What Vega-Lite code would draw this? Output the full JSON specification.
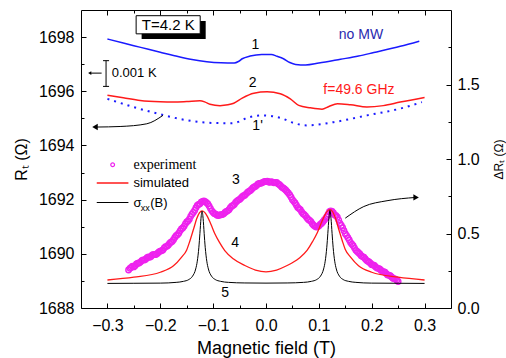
{
  "$schema": "https://vega.github.io/schema/vega-lite/v6.json",
  "width": 370,
  "height": 298,
  "autosize": "none",
  "padding": {"left": 81, "top": 10, "right": 55, "bottom": 50},
  "background": "white",
  "config": {
    "view": {"stroke": "black", "strokeWidth": 1},
    "axis": {"grid": false, "domain": false, "tickColor": "black", "tickWidth": 1, "labelColor": "black", "labelFont": "Liberation Sans", "labelFontSize": 16, "titleFont": "Liberation Sans", "titleFontWeight": "normal", "titleColor": "black"},
    "text": {"font": "Liberation Sans"}
  },
  "datasets": {
    "c1": [{"B":-0.3,"v":1697.93},{"B":-0.27,"v":1697.78},{"B":-0.237,"v":1697.62},{"B":-0.2,"v":1697.44},{"B":-0.175,"v":1697.32},{"B":-0.14,"v":1697.17},{"B":-0.112,"v":1697.09},{"B":-0.085,"v":1697.05},{"B":-0.06,"v":1697.04},{"B":-0.052,"v":1697.1},{"B":-0.045,"v":1697.2},{"B":-0.03,"v":1697.3},{"B":-0.008,"v":1697.36},{"B":0.01,"v":1697.36},{"B":0.021,"v":1697.29},{"B":0.033,"v":1697.2},{"B":0.045,"v":1697.06},{"B":0.056,"v":1696.99},{"B":0.075,"v":1696.97},{"B":0.1,"v":1697.04},{"B":0.141,"v":1697.18},{"B":0.175,"v":1697.3},{"B":0.204,"v":1697.43},{"B":0.254,"v":1697.66},{"B":0.29,"v":1697.85}],
    "c2": [{"B":-0.3,"v":1695.85},{"B":-0.27,"v":1695.76},{"B":-0.238,"v":1695.66},{"B":-0.2,"v":1695.61},{"B":-0.175,"v":1695.6},{"B":-0.15,"v":1695.62},{"B":-0.125,"v":1695.65},{"B":-0.115,"v":1695.6},{"B":-0.106,"v":1695.52},{"B":-0.087,"v":1695.47},{"B":-0.072,"v":1695.5},{"B":-0.061,"v":1695.56},{"B":-0.045,"v":1695.75},{"B":-0.023,"v":1695.93},{"B":0.002,"v":1695.98},{"B":0.027,"v":1695.91},{"B":0.046,"v":1695.72},{"B":0.062,"v":1695.48},{"B":0.084,"v":1695.39},{"B":0.106,"v":1695.34},{"B":0.119,"v":1695.44},{"B":0.135,"v":1695.54},{"B":0.16,"v":1695.5},{"B":0.191,"v":1695.42},{"B":0.222,"v":1695.47},{"B":0.254,"v":1695.6},{"B":0.3,"v":1695.77}],
    "c1p": [{"B":-0.3,"v":1695.72},{"B":-0.251,"v":1695.42},{"B":-0.2,"v":1695.15},{"B":-0.15,"v":1694.93},{"B":-0.1,"v":1694.83},{"B":-0.065,"v":1694.82},{"B":-0.048,"v":1694.9},{"B":-0.036,"v":1695.02},{"B":-0.005,"v":1695.11},{"B":0.027,"v":1695.02},{"B":0.052,"v":1694.83},{"B":0.078,"v":1694.74},{"B":0.128,"v":1694.86},{"B":0.191,"v":1695.11},{"B":0.254,"v":1695.36},{"B":0.295,"v":1695.6}],
    "exp": [{"B":-0.26,"v":0.255},{"B":-0.255,"v":0.272},{"B":-0.25,"v":0.276},{"B":-0.245,"v":0.295},{"B":-0.24,"v":0.302},{"B":-0.235,"v":0.318},{"B":-0.23,"v":0.322},{"B":-0.225,"v":0.338},{"B":-0.22,"v":0.341},{"B":-0.215,"v":0.356},{"B":-0.21,"v":0.358},{"B":-0.205,"v":0.368},{"B":-0.2,"v":0.382},{"B":-0.195,"v":0.39},{"B":-0.19,"v":0.412},{"B":-0.185,"v":0.421},{"B":-0.18,"v":0.441},{"B":-0.175,"v":0.458},{"B":-0.17,"v":0.485},{"B":-0.165,"v":0.502},{"B":-0.16,"v":0.53},{"B":-0.155,"v":0.548},{"B":-0.15,"v":0.577},{"B":-0.145,"v":0.596},{"B":-0.14,"v":0.63},{"B":-0.135,"v":0.655},{"B":-0.13,"v":0.688},{"B":-0.125,"v":0.699},{"B":-0.12,"v":0.716},{"B":-0.115,"v":0.714},{"B":-0.11,"v":0.698},{"B":-0.105,"v":0.667},{"B":-0.1,"v":0.641},{"B":-0.095,"v":0.629},{"B":-0.09,"v":0.62},{"B":-0.085,"v":0.626},{"B":-0.08,"v":0.632},{"B":-0.075,"v":0.648},{"B":-0.07,"v":0.66},{"B":-0.065,"v":0.683},{"B":-0.06,"v":0.695},{"B":-0.055,"v":0.717},{"B":-0.05,"v":0.728},{"B":-0.045,"v":0.747},{"B":-0.04,"v":0.757},{"B":-0.035,"v":0.776},{"B":-0.03,"v":0.787},{"B":-0.025,"v":0.806},{"B":-0.02,"v":0.816},{"B":-0.015,"v":0.832},{"B":-0.01,"v":0.837},{"B":-0.005,"v":0.845},{"B":0.0,"v":0.85},{"B":0.005,"v":0.846},{"B":0.01,"v":0.848},{"B":0.015,"v":0.84},{"B":0.02,"v":0.842},{"B":0.025,"v":0.829},{"B":0.03,"v":0.81},{"B":0.035,"v":0.799},{"B":0.04,"v":0.78},{"B":0.045,"v":0.758},{"B":0.05,"v":0.727},{"B":0.055,"v":0.705},{"B":0.06,"v":0.675},{"B":0.065,"v":0.659},{"B":0.07,"v":0.633},{"B":0.075,"v":0.617},{"B":0.08,"v":0.594},{"B":0.085,"v":0.58},{"B":0.09,"v":0.556},{"B":0.095,"v":0.543},{"B":0.1,"v":0.551},{"B":0.105,"v":0.567},{"B":0.11,"v":0.589},{"B":0.115,"v":0.612},{"B":0.12,"v":0.646},{"B":0.125,"v":0.648},{"B":0.13,"v":0.625},{"B":0.135,"v":0.609},{"B":0.14,"v":0.568},{"B":0.145,"v":0.539},{"B":0.15,"v":0.498},{"B":0.155,"v":0.472},{"B":0.16,"v":0.439},{"B":0.165,"v":0.418},{"B":0.17,"v":0.387},{"B":0.175,"v":0.371},{"B":0.18,"v":0.351},{"B":0.185,"v":0.341},{"B":0.19,"v":0.32},{"B":0.195,"v":0.309},{"B":0.2,"v":0.291},{"B":0.205,"v":0.285},{"B":0.21,"v":0.268},{"B":0.215,"v":0.262},{"B":0.22,"v":0.246},{"B":0.225,"v":0.24},{"B":0.23,"v":0.222},{"B":0.235,"v":0.217},{"B":0.24,"v":0.199},{"B":0.245,"v":0.194},{"B":0.25,"v":0.178},
      {"B":-0.2575,"v":0.266},{"B":-0.2525,"v":0.281},{"B":-0.2475,"v":0.284},{"B":-0.2425,"v":0.3},{"B":-0.2375,"v":0.308},{"B":-0.2325,"v":0.323},{"B":-0.2275,"v":0.328},{"B":-0.2225,"v":0.342},{"B":-0.2175,"v":0.346},{"B":-0.2125,"v":0.359},{"B":-0.2075,"v":0.361},{"B":-0.2025,"v":0.377},{"B":-0.1975,"v":0.384},{"B":-0.1925,"v":0.403},{"B":-0.1875,"v":0.414},{"B":-0.1825,"v":0.433},{"B":-0.1775,"v":0.447},{"B":-0.1725,"v":0.473},{"B":-0.1675,"v":0.492},{"B":-0.1625,"v":0.518},{"B":-0.1575,"v":0.537},{"B":-0.1525,"v":0.565},{"B":-0.1475,"v":0.584},{"B":-0.1425,"v":0.615},{"B":-0.1375,"v":0.641},{"B":-0.1325,"v":0.673},{"B":-0.1275,"v":0.695},{"B":-0.1225,"v":0.71},{"B":-0.1175,"v":0.719},{"B":-0.1125,"v":0.707},{"B":-0.1075,"v":0.684},{"B":-0.1025,"v":0.652},{"B":-0.0975,"v":0.633},{"B":-0.0925,"v":0.622},{"B":-0.0875,"v":0.624},{"B":-0.0825,"v":0.627},{"B":-0.0775,"v":0.641},{"B":-0.0725,"v":0.652},{"B":-0.0675,"v":0.673},{"B":-0.0625,"v":0.688},{"B":-0.0575,"v":0.708},{"B":-0.0525,"v":0.724},{"B":-0.0475,"v":0.737},{"B":-0.0425,"v":0.753},{"B":-0.0375,"v":0.766},{"B":-0.0325,"v":0.783},{"B":-0.0275,"v":0.795},{"B":-0.0225,"v":0.812},{"B":-0.0175,"v":0.823},{"B":-0.0125,"v":0.836},{"B":-0.0075,"v":0.84},{"B":-0.0025,"v":0.849},{"B":0.0025,"v":0.851},{"B":0.0075,"v":0.844},{"B":0.0125,"v":0.845},{"B":0.0175,"v":0.843},{"B":0.0225,"v":0.834},{"B":0.0275,"v":0.821},{"B":0.0325,"v":0.806},{"B":0.0375,"v":0.79},{"B":0.0425,"v":0.77},{"B":0.0475,"v":0.744},{"B":0.0525,"v":0.716},{"B":0.0575,"v":0.69},{"B":0.0625,"v":0.667},{"B":0.0675,"v":0.645},{"B":0.0725,"v":0.626},{"B":0.0775,"v":0.604},{"B":0.0825,"v":0.588},{"B":0.0875,"v":0.566},{"B":0.0925,"v":0.548},{"B":0.0975,"v":0.545},{"B":0.1025,"v":0.56},{"B":0.1075,"v":0.577},{"B":0.1125,"v":0.6},{"B":0.1175,"v":0.63},{"B":0.1225,"v":0.651},{"B":0.1275,"v":0.638},{"B":0.1325,"v":0.619},{"B":0.1375,"v":0.59},{"B":0.1425,"v":0.554},{"B":0.1475,"v":0.519},{"B":0.1525,"v":0.486},{"B":0.1575,"v":0.456},{"B":0.1625,"v":0.428},{"B":0.1675,"v":0.402},{"B":0.1725,"v":0.38},{"B":0.1775,"v":0.362},{"B":0.1825,"v":0.345},{"B":0.1875,"v":0.331},{"B":0.1925,"v":0.314},{"B":0.1975,"v":0.3},{"B":0.2025,"v":0.289},{"B":0.2075,"v":0.276},{"B":0.2125,"v":0.266},{"B":0.2175,"v":0.253},{"B":0.2225,"v":0.244},{"B":0.2275,"v":0.231},{"B":0.2325,"v":0.22},{"B":0.2375,"v":0.208},{"B":0.2425,"v":0.197},{"B":0.2475,"v":0.186}],
    "c4": [{"B":-0.3,"v":0.188},{"B":-0.25,"v":0.207},{"B":-0.2,"v":0.24},{"B":-0.175,"v":0.283},{"B":-0.16,"v":0.34},{"B":-0.15,"v":0.39},{"B":-0.144,"v":0.45},{"B":-0.137,"v":0.53},{"B":-0.131,"v":0.6},{"B":-0.126,"v":0.638},{"B":-0.121,"v":0.652},{"B":-0.116,"v":0.642},{"B":-0.111,"v":0.615},{"B":-0.104,"v":0.56},{"B":-0.097,"v":0.5},{"B":-0.088,"v":0.44},{"B":-0.078,"v":0.385},{"B":-0.062,"v":0.33},{"B":-0.04,"v":0.285},{"B":-0.02,"v":0.255},{"B":0.0,"v":0.243},{"B":0.02,"v":0.255},{"B":0.04,"v":0.285},{"B":0.062,"v":0.332},{"B":0.078,"v":0.388},{"B":0.088,"v":0.445},{"B":0.097,"v":0.505},{"B":0.104,"v":0.565},{"B":0.111,"v":0.622},{"B":0.116,"v":0.65},{"B":0.121,"v":0.66},{"B":0.126,"v":0.646},{"B":0.131,"v":0.607},{"B":0.137,"v":0.535},{"B":0.144,"v":0.455},{"B":0.15,"v":0.393},{"B":0.16,"v":0.342},{"B":0.175,"v":0.284},{"B":0.2,"v":0.24},{"B":0.25,"v":0.207},{"B":0.3,"v":0.188}],
    "c5": [{"B":-0.3,"v":0.165},{"B":-0.25,"v":0.166},{"B":-0.2,"v":0.167},{"B":-0.17,"v":0.172},{"B":-0.156,"v":0.179},{"B":-0.146,"v":0.191},{"B":-0.139,"v":0.2135},{"B":-0.133,"v":0.262},{"B":-0.13,"v":0.314},{"B":-0.127,"v":0.4075},{"B":-0.125,"v":0.501},{"B":-0.123,"v":0.6015},{"B":-0.121,"v":0.65},{"B":-0.119,"v":0.6015},{"B":-0.117,"v":0.501},{"B":-0.115,"v":0.4075},{"B":-0.112,"v":0.314},{"B":-0.109,"v":0.262},{"B":-0.103,"v":0.2135},{"B":-0.096,"v":0.191},{"B":-0.086,"v":0.179},{"B":-0.071,"v":0.172},{"B":-0.04,"v":0.168},{"B":0.0,"v":0.167},{"B":0.04,"v":0.168},{"B":0.071,"v":0.172},{"B":0.086,"v":0.179},{"B":0.096,"v":0.191},{"B":0.103,"v":0.2135},{"B":0.109,"v":0.262},{"B":0.112,"v":0.314},{"B":0.115,"v":0.4075},{"B":0.117,"v":0.501},{"B":0.119,"v":0.6015},{"B":0.121,"v":0.655},{"B":0.123,"v":0.6015},{"B":0.125,"v":0.501},{"B":0.127,"v":0.4075},{"B":0.13,"v":0.314},{"B":0.133,"v":0.262},{"B":0.139,"v":0.2135},{"B":0.146,"v":0.191},{"B":0.156,"v":0.179},{"B":0.17,"v":0.172},{"B":0.2,"v":0.167},{"B":0.25,"v":0.166},{"B":0.3,"v":0.165}],
    "arrowL": [{"B":-0.195,"v":1695.11},{"B":-0.2255,"v":1694.8},{"B":-0.276,"v":1694.7},{"B":-0.32,"v":1694.68}],
    "arrowR": [{"B":0.15,"v":0.603},{"B":0.185,"v":0.681},{"B":0.229,"v":0.72},{"B":0.283,"v":0.742}]
  },
  "layer": [
    {
      "resolve": {"axis": {"x": "independent", "y": "independent"}},
      "layer": [
        {
          "data": {"name": "c1"},
          "mark": {"type": "line", "color": "#1a1aff", "strokeWidth": 1.5, "interpolate": "monotone"},
          "encoding": {
            "x": {"field": "B", "type": "quantitative", "scale": {"domain": [-0.35, 0.35], "nice": false}, "axis": {"orient": "bottom", "values": [-0.3,-0.2,-0.1,0,0.1,0.2,0.3], "format": ".1f", "tickSize": -5, "labelPadding": 14, "title": "Magnetic field (T)", "titleFontSize": 18, "titlePadding": 6}},
            "y": {"field": "v", "type": "quantitative", "scale": {"domain": [1688, 1699], "nice": false, "zero": false}, "axis": {"orient": "left", "values": [1688,1690,1692,1694,1696,1698], "format": "d", "tickSize": -5, "labelPadding": 12, "title": "Rₜ (Ω)", "titleFontSize": 16, "titlePadding": 9}}
          }
        },
        {
          "data": {"name": "c2"},
          "mark": {"type": "line", "color": "#ff1a1a", "strokeWidth": 1.5, "interpolate": "monotone"},
          "encoding": {
            "x": {"field": "B", "type": "quantitative", "scale": {"domain": [-0.35, 0.35], "nice": false}, "axis": {"orient": "bottom", "values": [-0.25,-0.15,-0.05,0.05,0.15,0.25], "tickSize": -3, "labels": false, "title": null}},
            "y": {"field": "v", "type": "quantitative", "scale": {"domain": [1688, 1699], "nice": false, "zero": false}, "axis": {"orient": "left", "values": [1689,1691,1693,1695,1697], "tickSize": -3, "labels": false, "title": null}}
          }
        },
        {
          "data": {"name": "c1p"},
          "mark": {"type": "line", "color": "#1a1aff", "strokeWidth": 2, "strokeDash": [2, 5], "interpolate": "monotone"},
          "encoding": {
            "x": {"field": "B", "type": "quantitative", "scale": {"domain": [-0.35, 0.35], "nice": false}, "axis": {"orient": "top", "values": [-0.3,-0.2,-0.1,0,0.1,0.2,0.3], "tickSize": -5, "labels": false, "title": null}},
            "y": {"field": "v", "type": "quantitative", "scale": {"domain": [1688, 1699], "nice": false, "zero": false}, "axis": null}
          }
        },
        {
          "data": {"name": "arrowL"},
          "mark": {"type": "line", "color": "black", "strokeWidth": 1, "interpolate": "monotone"},
          "encoding": {
            "x": {"field": "B", "type": "quantitative", "scale": {"domain": [-0.35, 0.35], "nice": false}, "axis": {"orient": "top", "values": [-0.25,-0.15,-0.05,0.05,0.15,0.25], "tickSize": -3, "labels": false, "title": null}},
            "y": {"field": "v", "type": "quantitative", "scale": {"domain": [1688, 1699], "nice": false, "zero": false}, "axis": null}
          }
        },
        {
          "data": {"values": [{"B": -0.3235, "v": 1694.68}]},
          "mark": {"type": "point", "shape": "triangle-left", "filled": true, "color": "black", "size": 40, "opacity": 1},
          "encoding": {
            "x": {"field": "B", "type": "quantitative", "scale": {"domain": [-0.35, 0.35], "nice": false}, "axis": null},
            "y": {"field": "v", "type": "quantitative", "scale": {"domain": [1688, 1699], "nice": false, "zero": false}, "axis": null}
          }
        },
        {
          "data": {"values": [{"B": -0.2353, "B2": -0.1141, "v": 1697.93, "v2": 1698.59}]},
          "mark": {"type": "rect", "color": "black"},
          "encoding": {
            "x": {"field": "B", "type": "quantitative", "scale": {"domain": [-0.35, 0.35], "nice": false}, "axis": null},
            "x2": {"field": "B2"},
            "y": {"field": "v", "type": "quantitative", "scale": {"domain": [1688, 1699], "nice": false, "zero": false}, "axis": null},
            "y2": {"field": "v2"}
          }
        },
        {
          "data": {"values": [{"B": -0.2457, "B2": -0.1245, "v": 1698.12, "v2": 1698.79}]},
          "mark": {"type": "rect", "fill": "white", "stroke": "black", "strokeWidth": 1},
          "encoding": {
            "x": {"field": "B", "type": "quantitative", "scale": {"domain": [-0.35, 0.35], "nice": false}, "axis": null},
            "x2": {"field": "B2"},
            "y": {"field": "v", "type": "quantitative", "scale": {"domain": [1688, 1699], "nice": false, "zero": false}, "axis": null},
            "y2": {"field": "v2"}
          }
        },
        {
          "data": {"values": [{"B": -0.185, "v": 1698.46, "t": "T=4.2 K"}]},
          "mark": {"type": "text", "fontSize": 15, "color": "black", "align": "center", "baseline": "middle"},
          "encoding": {
            "x": {"field": "B", "type": "quantitative", "scale": {"domain": [-0.35, 0.35], "nice": false}, "axis": null},
            "y": {"field": "v", "type": "quantitative", "scale": {"domain": [1688, 1699], "nice": false, "zero": false}, "axis": null},
            "text": {"field": "t"}
          }
        },
        {
          "data": {"values": [{"B": -0.0203, "v": 1697.71, "t": "1"}, {"B": -0.0254, "v": 1696.3, "t": "2"}, {"B": -0.0159, "v": 1694.7, "t": "1'"}]},
          "mark": {"type": "text", "fontSize": 14, "color": "black", "align": "center", "baseline": "middle"},
          "encoding": {
            "x": {"field": "B", "type": "quantitative", "scale": {"domain": [-0.35, 0.35], "nice": false}, "axis": null},
            "y": {"field": "v", "type": "quantitative", "scale": {"domain": [1688, 1699], "nice": false, "zero": false}, "axis": null},
            "text": {"field": "t"}
          }
        },
        {
          "data": {"values": [{"B": 0.1796, "v": 1698.06, "t": "no MW"}]},
          "mark": {"type": "text", "fontSize": 14, "color": "#2a2ab0", "align": "center", "baseline": "middle"},
          "encoding": {
            "x": {"field": "B", "type": "quantitative", "scale": {"domain": [-0.35, 0.35], "nice": false}, "axis": null},
            "y": {"field": "v", "type": "quantitative", "scale": {"domain": [1688, 1699], "nice": false, "zero": false}, "axis": null},
            "text": {"field": "t"}
          }
        },
        {
          "data": {"values": [{"B": 0.1758, "v": 1696.03, "t": "f=49.6 GHz"}]},
          "mark": {"type": "text", "fontSize": 14, "color": "#ff1a1a", "align": "center", "baseline": "middle"},
          "encoding": {
            "x": {"field": "B", "type": "quantitative", "scale": {"domain": [-0.35, 0.35], "nice": false}, "axis": null},
            "y": {"field": "v", "type": "quantitative", "scale": {"domain": [1688, 1699], "nice": false, "zero": false}, "axis": null},
            "text": {"field": "t"}
          }
        },
        {
          "data": {"values": [{"B": -0.2918, "v": 1696.67, "t": "0.001 K"}]},
          "mark": {"type": "text", "fontSize": 13, "color": "black", "align": "left", "baseline": "middle"},
          "encoding": {
            "x": {"field": "B", "type": "quantitative", "scale": {"domain": [-0.35, 0.35], "nice": false}, "axis": null},
            "y": {"field": "v", "type": "quantitative", "scale": {"domain": [1688, 1699], "nice": false, "zero": false}, "axis": null},
            "text": {"field": "t"}
          }
        },
        {
          "data": {"values": [{"B": -0.3026, "v": 1696.18, "v2": 1697.13}]},
          "mark": {"type": "rule", "color": "black", "strokeWidth": 1},
          "encoding": {
            "x": {"field": "B", "type": "quantitative", "scale": {"domain": [-0.35, 0.35], "nice": false}, "axis": null},
            "y": {"field": "v", "type": "quantitative", "scale": {"domain": [1688, 1699], "nice": false, "zero": false}, "axis": null},
            "y2": {"field": "v2"}
          }
        },
        {
          "data": {"values": [{"B": -0.3083, "B2": -0.2969, "v": 1696.18}, {"B": -0.3083, "B2": -0.2969, "v": 1697.13}, {"B": -0.333, "B2": -0.311, "v": 1696.67}]},
          "mark": {"type": "rule", "color": "black", "strokeWidth": 1},
          "encoding": {
            "x": {"field": "B", "type": "quantitative", "scale": {"domain": [-0.35, 0.35], "nice": false}, "axis": null},
            "x2": {"field": "B2"},
            "y": {"field": "v", "type": "quantitative", "scale": {"domain": [1688, 1699], "nice": false, "zero": false}, "axis": null}
          }
        },
        {
          "data": {"values": [{"B": -0.3335, "v": 1696.67}]},
          "mark": {"type": "point", "shape": "triangle-left", "filled": true, "color": "black", "size": 14, "opacity": 1},
          "encoding": {
            "x": {"field": "B", "type": "quantitative", "scale": {"domain": [-0.35, 0.35], "nice": false}, "axis": null},
            "y": {"field": "v", "type": "quantitative", "scale": {"domain": [1688, 1699], "nice": false, "zero": false}, "axis": null}
          }
        }
      ]
    },
    {
      "resolve": {"axis": {"y": "independent"}},
      "layer": [
        {
          "data": {"name": "exp"},
          "mark": {"type": "point", "shape": "circle", "filled": false, "color": "#ee22ee", "strokeWidth": 1.4, "size": 30, "opacity": 1},
          "encoding": {
            "x": {"field": "B", "type": "quantitative", "scale": {"domain": [-0.35, 0.35], "nice": false}, "axis": null},
            "y": {"field": "v", "type": "quantitative", "scale": {"domain": [0, 2], "nice": false}, "axis": {"orient": "right", "values": [0, 0.5, 1, 1.5], "format": ".1f", "tickSize": -5, "labelPadding": 11, "title": "ΔRₜ (Ω)", "titleFontSize": 12, "titleAngle": -90, "titlePadding": 26}}
          }
        },
        {
          "data": {"name": "c4"},
          "mark": {"type": "line", "color": "#ff1a1a", "strokeWidth": 1.3, "interpolate": "monotone"},
          "encoding": {
            "x": {"field": "B", "type": "quantitative", "scale": {"domain": [-0.35, 0.35], "nice": false}, "axis": null},
            "y": {"field": "v", "type": "quantitative", "scale": {"domain": [0, 2], "nice": false}, "axis": {"orient": "right", "values": [0.25, 0.75, 1.25, 1.75], "tickSize": -3, "labels": false, "title": null}}
          }
        },
        {
          "data": {"name": "c5"},
          "mark": {"type": "line", "color": "black", "strokeWidth": 1, "interpolate": "monotone"},
          "encoding": {
            "x": {"field": "B", "type": "quantitative", "scale": {"domain": [-0.35, 0.35], "nice": false}, "axis": null},
            "y": {"field": "v", "type": "quantitative", "scale": {"domain": [0, 2], "nice": false}, "axis": null}
          }
        },
        {
          "data": {"name": "arrowR"},
          "mark": {"type": "line", "color": "black", "strokeWidth": 1, "interpolate": "monotone"},
          "encoding": {
            "x": {"field": "B", "type": "quantitative", "scale": {"domain": [-0.35, 0.35], "nice": false}, "axis": null},
            "y": {"field": "v", "type": "quantitative", "scale": {"domain": [0, 2], "nice": false}, "axis": null}
          }
        },
        {
          "data": {"values": [{"B": 0.284, "v": 0.742}]},
          "mark": {"type": "point", "shape": "triangle-right", "filled": true, "color": "black", "size": 40, "opacity": 1},
          "encoding": {
            "x": {"field": "B", "type": "quantitative", "scale": {"domain": [-0.35, 0.35], "nice": false}, "axis": null},
            "y": {"field": "v", "type": "quantitative", "scale": {"domain": [0, 2], "nice": false}, "axis": null}
          }
        },
        {
          "data": {"values": [{"B": -0.0568, "v": 0.861, "t": "3"}, {"B": -0.0582, "v": 0.439, "t": "4"}, {"B": -0.0771, "v": 0.103, "t": "5"}]},
          "mark": {"type": "text", "fontSize": 14, "color": "black", "align": "center", "baseline": "middle"},
          "encoding": {
            "x": {"field": "B", "type": "quantitative", "scale": {"domain": [-0.35, 0.35], "nice": false}, "axis": null},
            "y": {"field": "v", "type": "quantitative", "scale": {"domain": [0, 2], "nice": false}, "axis": null},
            "text": {"field": "t"}
          }
        },
        {
          "data": {"values": [{"B": -0.2901, "v": 0.962}]},
          "mark": {"type": "point", "shape": "circle", "filled": false, "color": "#ee22ee", "strokeWidth": 1.2, "size": 14, "opacity": 1},
          "encoding": {
            "x": {"field": "B", "type": "quantitative", "scale": {"domain": [-0.35, 0.35], "nice": false}, "axis": null},
            "y": {"field": "v", "type": "quantitative", "scale": {"domain": [0, 2], "nice": false}, "axis": null}
          }
        },
        {
          "data": {"values": [{"B": -0.3202, "B2": -0.2603, "v": 0.839}]},
          "mark": {"type": "rule", "color": "#ff1a1a", "strokeWidth": 1.3},
          "encoding": {
            "x": {"field": "B", "type": "quantitative", "scale": {"domain": [-0.35, 0.35], "nice": false}, "axis": null},
            "x2": {"field": "B2"},
            "y": {"field": "v", "type": "quantitative", "scale": {"domain": [0, 2], "nice": false}, "axis": null}
          }
        },
        {
          "data": {"values": [{"B": -0.3202, "B2": -0.2603, "v": 0.708}]},
          "mark": {"type": "rule", "color": "black", "strokeWidth": 1},
          "encoding": {
            "x": {"field": "B", "type": "quantitative", "scale": {"domain": [-0.35, 0.35], "nice": false}, "axis": null},
            "x2": {"field": "B2"},
            "y": {"field": "v", "type": "quantitative", "scale": {"domain": [0, 2], "nice": false}, "axis": null}
          }
        },
        {
          "data": {"values": [{"B": -0.2508, "v": 0.962, "t": "experiment"}]},
          "mark": {"type": "text", "font": "Liberation Serif", "fontSize": 14, "color": "black", "align": "left", "baseline": "middle"},
          "encoding": {
            "x": {"field": "B", "type": "quantitative", "scale": {"domain": [-0.35, 0.35], "nice": false}, "axis": null},
            "y": {"field": "v", "type": "quantitative", "scale": {"domain": [0, 2], "nice": false}, "axis": null},
            "text": {"field": "t"}
          }
        },
        {
          "data": {"values": [{"B": -0.2508, "v": 0.839, "t": "simulated"}, {"B": -0.2508, "v": 0.708, "t": "σ"}, {"B": -0.2192, "v": 0.708, "t": "(B)"}]},
          "mark": {"type": "text", "fontSize": 13, "color": "black", "align": "left", "baseline": "middle"},
          "encoding": {
            "x": {"field": "B", "type": "quantitative", "scale": {"domain": [-0.35, 0.35], "nice": false}, "axis": null},
            "y": {"field": "v", "type": "quantitative", "scale": {"domain": [0, 2], "nice": false}, "axis": null},
            "text": {"field": "t"}
          }
        },
        {
          "data": {"values": [{"B": -0.2371, "v": 0.668, "t": "xx"}]},
          "mark": {"type": "text", "fontSize": 9, "color": "black", "align": "left", "baseline": "middle"},
          "encoding": {
            "x": {"field": "B", "type": "quantitative", "scale": {"domain": [-0.35, 0.35], "nice": false}, "axis": null},
            "y": {"field": "v", "type": "quantitative", "scale": {"domain": [0, 2], "nice": false}, "axis": null},
            "text": {"field": "t"}
          }
        }
      ]
    }
  ],
  "resolve": {"scale": {"y": "independent"}, "axis": {"x": "independent"}}
}
